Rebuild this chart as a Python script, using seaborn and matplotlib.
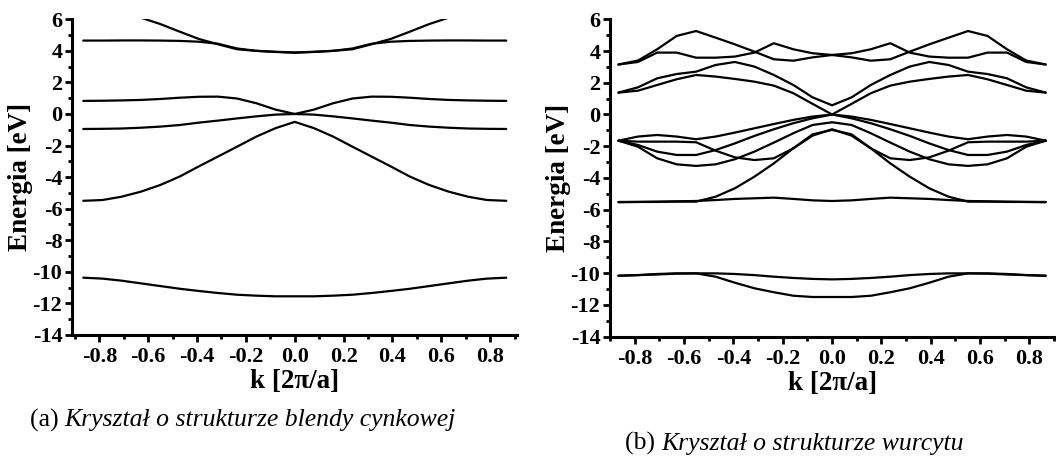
import matplotlib
matplotlib.use("Agg")
import numpy as np
import pandas as pd
import matplotlib.pyplot as plt
import seaborn as sns
from matplotlib.ticker import MultipleLocator, FormatStrFormatter

# ---------------- data ----------------
# k points of the half path, from the zone edge to Gamma; the bands are mirror symmetric
K_HALF = [-0.866, -0.787, -0.709, -0.630, -0.551, -0.472,
          -0.394, -0.315, -0.236, -0.157, -0.079, 0.0]

# (a) zinc blende
ZB_C2 = [7.2, 7.0, 6.6, 6.1, 5.7, 5.22, 4.76, 4.42, 4.10, 4.00, 3.94, 3.90]
ZB_C1 = [4.65, 4.65, 4.66, 4.66, 4.65, 4.63, 4.58, 4.45, 4.15, 4.00, 3.93, 3.88]
ZB_C0 = [0.83, 0.84, 0.86, 0.89, 0.95, 1.03, 1.09, 1.10, 0.98, 0.68, 0.28, 0.0]
ZB_V1 = [-0.95, -0.94, -0.92, -0.87, -0.80, -0.70, -0.55, -0.42, -0.28, -0.15, -0.04, 0.0]
ZB_V2 = [-5.50, -5.45, -5.24, -4.92, -4.50, -3.97, -3.33, -2.70, -2.07, -1.43, -0.90, -0.50]
ZB_S = [-10.37, -10.43, -10.56, -10.73, -10.90, -11.07, -11.21, -11.34, -11.45, -11.51, -11.55, -11.55]

# (b) wurtzite
WZ_T1 = [3.15, 3.40, 4.11, 4.95, 5.26, 4.84, 4.42, 3.96, 3.48, 3.39, 3.60, 3.75]
WZ_T2 = [3.15, 3.31, 3.90, 3.90, 3.58, 3.58, 3.65, 3.90, 4.49, 4.11, 3.86, 3.75]
WZ_M1 = [1.38, 1.71, 2.28, 2.55, 2.70, 3.12, 3.31, 3.02, 2.49, 1.86, 1.08, 0.58]
WZ_M2 = [1.38, 1.50, 1.86, 2.22, 2.49, 2.39, 2.24, 2.07, 1.82, 1.34, 0.67, 0.0]
WZ_VA = [-1.65, -1.39, -1.29, -1.39, -1.56, -1.39, -1.14, -0.87, -0.60, -0.34, -0.13, 0.0]
WZ_VB = [-1.65, -1.71, -1.71, -1.71, -1.75, -2.28, -2.70, -2.87, -2.76, -2.13, -1.33, -0.93]
WZ_VC = [-1.65, -1.92, -2.34, -2.55, -2.55, -2.24, -1.82, -1.35, -0.93, -0.55, -0.24, 0.0]
WZ_VD = [-1.65, -2.03, -2.76, -3.14, -3.24, -3.14, -2.82, -2.34, -1.77, -1.18, -0.66, -0.49]
WZ_VE = [-5.51, -5.51, -5.51, -5.49, -5.49, -5.18, -4.65, -3.92, -3.08, -2.13, -1.25, -0.97]
WZ_S = [-5.53, -5.51, -5.49, -5.47, -5.45, -5.39, -5.32, -5.28, -5.24, -5.32, -5.41, -5.45]
WZ_L1 = [-10.16, -10.12, -10.05, -10.01, -10.01, -10.01, -10.05, -10.12, -10.22, -10.30, -10.36, -10.39]
WZ_L2 = [-10.16, -10.12, -10.08, -10.03, -10.01, -10.22, -10.60, -10.95, -11.20, -11.42, -11.50, -11.50]

Y_TICKS = [6, 4, 2, 0, -2, -4, -6, -8, -10, -12, -14]
X_TICKS = [-0.8, -0.6, -0.4, -0.2, 0.0, 0.2, 0.4, 0.6, 0.8]

XLABEL = "k [2\u03c0/a]"
YLABEL = "Energia [eV]"
CAP_A = ("(a) ", "Kryształ o strukturze blendy cynkowej")
CAP_B = ("(b) ", "Kryształ o strukturze wurcytu")


def long_frame(bands):
    rows = []
    for name, half in bands.items():
        ks = list(K_HALF) + [-k for k in K_HALF[-2::-1]]
        es = list(half) + list(half[-2::-1])
        for k, e in zip(ks, es):
            rows.append({"k": k, "E": e, "band": name})
    return pd.DataFrame(rows)


df_a = long_frame({"c2": ZB_C2, "c1": ZB_C1, "c0": ZB_C0,
                   "v1": ZB_V1, "v2": ZB_V2, "s": ZB_S})
df_b = long_frame({"t1": WZ_T1, "t2": WZ_T2, "m1": WZ_M1, "m2": WZ_M2,
                   "va": WZ_VA, "vb": WZ_VB, "vc": WZ_VC, "vd": WZ_VD,
                   "ve": WZ_VE, "s": WZ_S, "l1": WZ_L1, "l2": WZ_L2})

# ---------------- style ----------------
sns.set_theme(style="ticks")
plt.rcParams["font.family"] = ["Liberation Serif", "DejaVu Serif"]
plt.rcParams["axes.unicode_minus"] = False

fig = plt.figure(figsize=(10.56, 4.59), dpi=100)
ax_a = fig.add_axes([0.0682, 0.2702, 0.4214, 0.6878])
ax_b = fig.add_axes([0.5777, 0.2665, 0.4205, 0.6915])

for ax, df, xl in ((ax_a, df_a, (-0.912, 0.91)), (ax_b, df_b, (-0.9, 0.9))):
    sns.lineplot(data=df, x="k", y="E", units="band", estimator=None,
                 color="black", lw=1.6, sort=False, ax=ax, legend=False)
    ax.set_xlim(*xl)
    ax.set_ylim(-14, 6)
    ax.set_yticks(Y_TICKS)
    ax.set_xticks(X_TICKS)
    ax.yaxis.set_minor_locator(MultipleLocator(1))
    ax.xaxis.set_minor_locator(MultipleLocator(0.1))
    ax.xaxis.set_major_formatter(FormatStrFormatter("%.1f"))
    ax.yaxis.set_major_formatter(FormatStrFormatter("%d"))
    for s in ("top", "right"):
        ax.spines[s].set_visible(False)
    for s in ("left", "bottom"):
        ax.spines[s].set_linewidth(2.2)
        ax.spines[s].set_color("black")
    ax.tick_params(which="major", direction="out", length=5, width=2,
                   color="black", pad=2)
    ax.tick_params(axis="x", which="major", pad=4)
    ax.tick_params(which="minor", direction="out", length=3, width=2,
                   color="black")
    for lab in ax.get_xticklabels() + ax.get_yticklabels():
        lab.set_fontsize(16)
        lab.set_fontweight("bold")
        lab.set_color("black")
    ax.set_xlabel(XLABEL, fontsize=19.5, fontweight="bold", color="black", labelpad=1)
    ax.set_ylabel(YLABEL, fontsize=19.5, fontweight="bold", color="black", labelpad=0)
    ax.set_facecolor("white")

fig.patch.set_facecolor("white")

# captions: upright label + italic description
renderer = fig.canvas.get_renderer()
for (x0, y0), (lab, txt) in (((0.028, 0.085), CAP_A), ((0.592, 0.033), CAP_B)):
    t = fig.text(x0, y0, lab, fontsize=18.5, va="center", ha="left", color="black")
    bb = t.get_window_extent(renderer=renderer)
    x1 = bb.x1 / fig.bbox.width
    fig.text(x1, y0, txt, fontsize=18.5, style="italic", va="center", ha="left",
             color="black")

fig.savefig("out.png", dpi=100, facecolor="white")
